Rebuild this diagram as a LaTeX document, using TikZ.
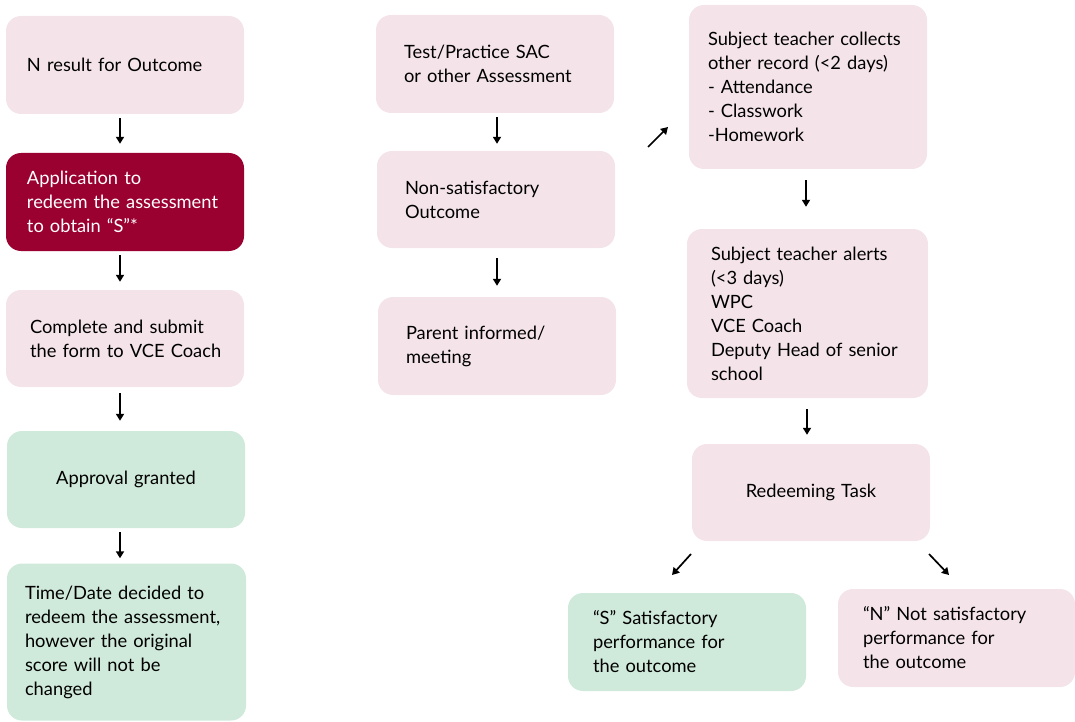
\documentclass[tikz,border=0pt]{standalone}
\usepackage{fontspec}
\setmainfont{Lato}
\usetikzlibrary{arrows.meta,calc}
\definecolor{pinkbg}{HTML}{F4E4E9}
\definecolor{greenbg}{HTML}{CFE9DA}
\definecolor{darkred}{HTML}{9A0030}
\newcommand{\myl}[1]{\mbox{#1}}
\begin{document}
\begin{tikzpicture}[x=1pt,y=-1pt,
  every node/.style={font=\fontsize{18.3}{24}\selectfont},
  box/.style={rounded corners=15pt, inner ysep=0pt, align=left, anchor=center},
  pinkbox/.style={box, fill=pinkbg, text=black},
  greenbox/.style={box, fill=greenbg, text=black},
  redbox/.style={box, fill=darkred, text=white},
  arr/.style={line width=1.7pt, -{Triangle[length=7pt,width=8pt]}, black}]
\useasboundingbox (0,0) rectangle (1075,722);
% left column
\node[pinkbox, minimum width=238, minimum height=98, inner xsep=21, text width=196] (n1) at (125,65) {\myl{N result for Outcome}};
\node[redbox, minimum width=238, minimum height=98, inner xsep=21, text width=196] (n2) at (125,202) {\myl{Application to}\\\myl{redeem the assessment}\\\myl{to obtain “S”*}};
\node[pinkbox, minimum width=238, minimum height=97, inner xsep=24, text width=190] (n3) at (125,338.5) {\myl{Complete and submit}\\\myl{the form to VCE Coach}};
\node[greenbox, align=center, minimum width=238, minimum height=97, text width=200] (n4) at (126,479.5) {Approval granted};
\node[greenbox, minimum width=239, minimum height=157, inner xsep=18, text width=203] (n5) at (126.5,642) {\myl{Time/Date decided to}\\\myl{redeem the assessment,}\\\myl{however the original}\\\myl{score will not be}\\\myl{changed}};
% middle column
\node[pinkbox, minimum width=238, minimum height=98, inner xsep=28, text width=182] (n6) at (495,64) {\myl{Test/Practice SAC}\\\myl{or other Assessment}};
\node[pinkbox, minimum width=238, minimum height=97, inner xsep=28, text width=182] (n7) at (496,199.5) {\myl{Non-satisfactory}\\\myl{Outcome}};
\node[pinkbox, minimum width=238, minimum height=98, inner xsep=28, text width=182] (n8) at (497,346) {\myl{Parent informed/}\\\myl{meeting}};
% right column
\node[pinkbox, minimum width=238, minimum height=164, inner xsep=19, text width=200] (n9) at (808,87) {\myl{Subject teacher collects}\\\myl{other record (<2 days)}\\\myl{- Attendance}\\\myl{- Classwork}\\\myl{-Homework}};
\node[pinkbox, minimum width=241, minimum height=169, inner xsep=24, text width=193] (n10) at (807.5,313.5) {\myl{Subject teacher alerts}\\\myl{(<3 days)}\\\myl{WPC}\\\myl{VCE Coach}\\\myl{Deputy Head of senior}\\\myl{school}};
\node[pinkbox, align=center, minimum width=238, minimum height=97, text width=200] (n11) at (811,492.5) {Redeeming Task};
\node[greenbox, minimum width=238, minimum height=98, inner xsep=25, text width=188] (n12) at (687,642) {\myl{“S” Satisfactory}\\\myl{performance for}\\\myl{the outcome}};
\node[pinkbox, minimum width=237, minimum height=98, inner xsep=25, text width=187] (n13) at (956.5,638) {\myl{“N” Not satisfactory}\\\myl{performance for}\\\myl{the outcome}};
% arrows
\draw[arr] ($(n1.south)+(-5,4)$) -- ($(n2.north)+(-5,-9)$);
\draw[arr] ($(n2.south)+(-5,4)$) -- ($(n3.north)+(-5,-8)$);
\draw[arr] ($(n3.south)+(-5,6)$) -- ($(n4.north)+(-6,-10)$);
\draw[arr] ($(n4.south)+(-6,4)$) -- ($(n5.north)+(-6.5,-5)$);
\draw[arr] ($(n6.south)+(2,4)$) -- ($(n7.north)+(1,-7)$);
\draw[arr] ($(n7.south)+(1,10)$) -- ($(n8.north)+(0,-11)$);
\coordinate (d1s) at (648,147);
\coordinate (d1e) at (668,127);
\draw[arr] (d1s) -- (d1e);
\draw[arr] ($(n9.south)+(-2,11)$) -- ($(n10.north)+(-1.5,-22)$);
\draw[arr] ($(n10.south)+(-0.5,11)$) -- ($(n11.north)+(-4,-9)$);
\coordinate (d2s) at (691,554);
\coordinate (d2e) at (672,575);
\draw[arr] (d2s) -- (d2e);
\coordinate (d3s) at (929,554);
\coordinate (d3e) at (949,575);
\draw[arr] (d3s) -- (d3e);
\end{tikzpicture}
\end{document}
